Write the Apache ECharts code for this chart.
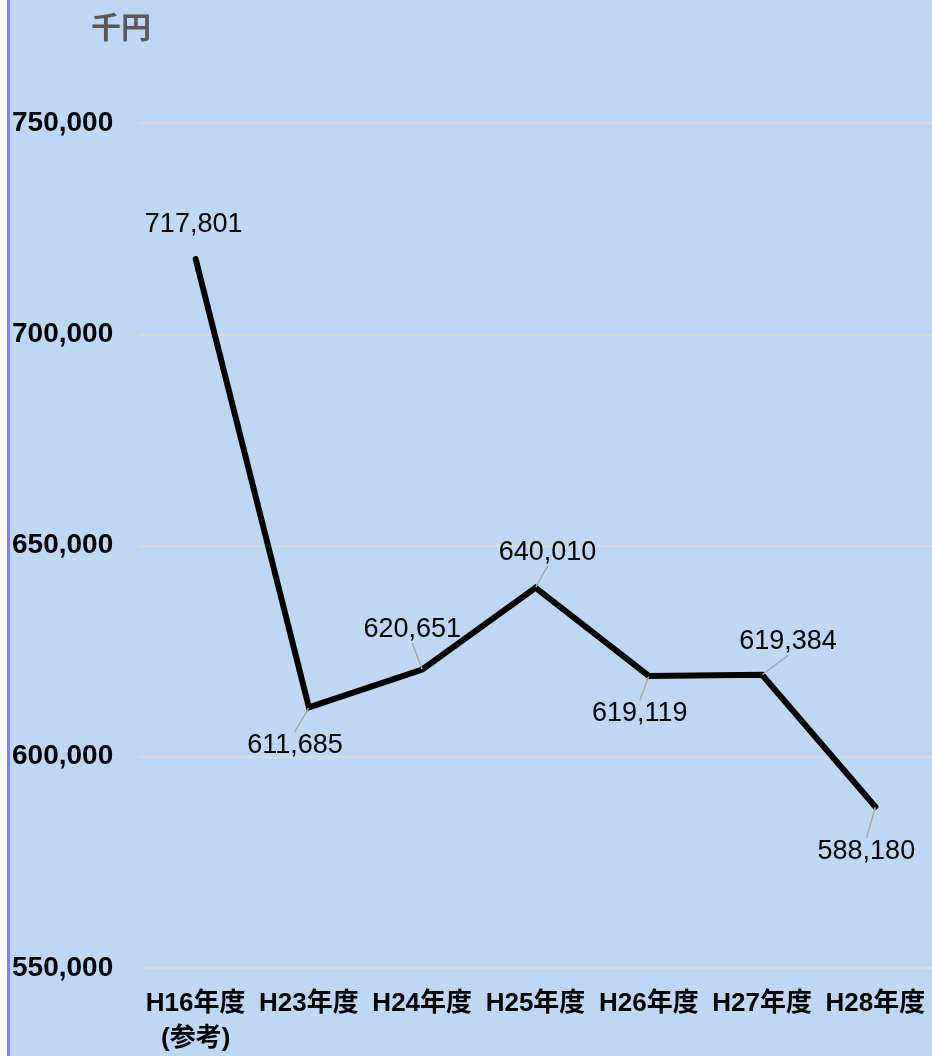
<!DOCTYPE html>
<html>
<head>
<meta charset="utf-8">
<script src="https://cdn.jsdelivr.net/npm/echarts@6/dist/echarts.min.js"></script>
<style>
html,body{margin:0;padding:0;background:#ffffff;}
#chart{position:absolute;left:0;top:0;width:932px;height:1056px;}
</style>
</head>
<body>
<div id="chart"></div>
<script>
// ---- data ----
const categories = ['H16年度\n(参考)', 'H23年度', 'H24年度', 'H25年度', 'H26年度', 'H27年度', 'H28年度'];
const values = [717801, 611685, 620651, 640010, 619119, 619384, 588180];
const yTicks = [550000, 600000, 650000, 700000, 750000];
const unitLabel = '千円';

// ---- label offsets (layout only) ----
const labelOffsets = [[-2,-34],[-14,38],[-10,-40],[12,-35],[-9,38],[26,-33],[-9,45]];

const FONT = '"Liberation Sans", Arial, "Noto Sans CJK JP", sans-serif';
const chart = echarts.init(document.getElementById('chart'), null, {renderer:'canvas'});

const fmt = v => v.toLocaleString('en-US');

chart.setOption({
  backgroundColor: '#BDD7F5',
  animation: false,
  graphic: [
    {type:'rect', left:0, top:0, shape:{width:7, height:1056}, style:{fill:'#ffffff'}, z:100},
    {type:'rect', left:7, top:0, shape:{width:3, height:1056}, style:{fill:'#8080FF'}, z:100}
  ],
  title: {
    text: unitLabel, left: 86, top: 10,
    textStyle: {fontFamily: FONT, fontSize: 30, fontWeight: 'bold', color: '#595959'}
  },
  grid: {left: 139, top: 123, width: 798, bottom: 84, containLabel: false},
  xAxis: {
    type: 'category',
    data: categories,
    boundaryGap: true,
    axisLine: {show: false},
    axisTick: {show: false},
    axisLabel: {
      interval: 0, margin: 18,
      fontFamily: FONT, fontSize: 26, fontWeight: 'bold', color: '#000000',
      lineHeight: 35
    },
    splitLine: {show: false}
  },
  yAxis: {
    type: 'value',
    min: yTicks[0], max: yTicks[yTicks.length-1], interval: yTicks[1]-yTicks[0],
    axisLine: {show: false},
    axisTick: {show: false},
    axisLabel: {
      align: 'left', margin: 127,
      fontFamily: FONT, fontSize: 28, fontWeight: 'bold', color: '#000000',
      formatter: v => fmt(v)
    },
    splitLine: {lineStyle: {color: '#D9D9D9', width: 2}}
  },
  series: [{
    type: 'line',
    data: values.map((v, i) => ({value: v, labelLine: {show: i !== 0}})),
    symbol: 'circle',
    symbolSize: 1,
    showSymbol: true,
    itemStyle: {color: '#000000'},
    lineStyle: {color: '#000000', width: 6, join: 'miter', cap: 'round'},
    label: {
      show: true,
      position: 'inside',
      fontFamily: FONT, fontSize: 27, color: '#000000',
      formatter: p => fmt(p.value)
    },
    labelLine: {show: true, lineStyle: {color: '#A6A6A6', width: 1.5}},
    labelLayout: p => ({dx: labelOffsets[p.dataIndex][0], dy: labelOffsets[p.dataIndex][1]})
  }]
});
</script>
</body>
</html>
